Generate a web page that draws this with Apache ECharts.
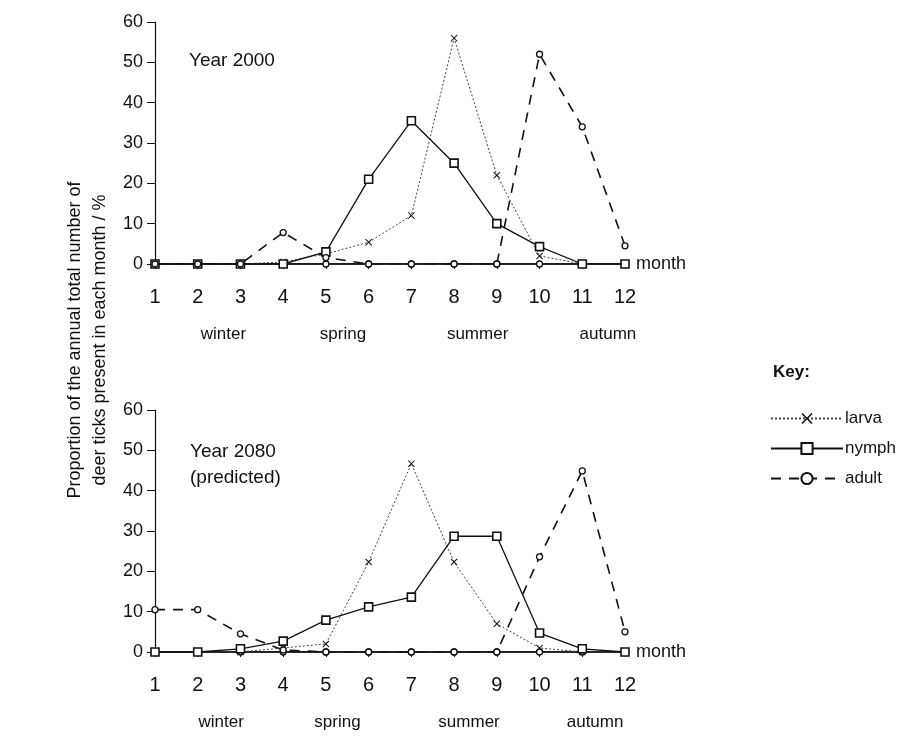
<!DOCTYPE html>
<html><head><meta charset="utf-8">
<script src="https://cdn.jsdelivr.net/npm/echarts@6/dist/echarts.min.js"></script>
<style>html,body{margin:0;padding:0;background:#fff}#c{width:920px;height:736px}</style>
</head><body><div id="c"></div>
<script>
const months = [1,2,3,4,5,6,7,8,9,10,11,12];
const larva2000 = [0,0,0,0.5,2.5,5.4,12,56,22,2,0,0];
const nymph2000 = [0,0,0,0,3,21,35.5,25,10,4.3,0,0];
const adult2000 = [0,0,0,7.8,1.6,0,0,0,0,52,34,4.5];
const larva2080 = [0,0,0,1,2,22.3,46.7,22.3,7,1,0,0];
const nymph2080 = [0,0,0.8,2.7,7.9,11.2,13.6,28.7,28.7,4.7,0.8,0];
const adult2080 = [10.5,10.5,4.5,0.5,0,0,0,0,0,23.6,44.9,5];
const baseline = [0,0,0,0,0,0,0,0,0,0,0,0];
const seasons = ['winter','spring','summer','autumn'];
const seasonPosTop = [2.6,5.4,8.55,11.6];
const seasonPosBottom = [2.55,5.27,8.35,11.3];
const yTicks = {min:0,max:60,interval:10};

const FONT = 'Liberation Sans, Arial, sans-serif';
const X = 'path://M0,1L1,0L5,4L9,0L10,1L6,5L10,9L9,10L5,6L1,10L0,9L4,5Z';

function pairs(arr){ return arr.map((v,i)=>[months[i],v]); }

function mainX(g){
  return {type:'value',gridIndex:g,min:1,max:12,interval:1,
    name:'month',nameLocation:'end',nameGap:11,
    nameTextStyle:{fontSize:18,color:'#111',fontFamily:FONT,verticalAlign:'middle'},
    axisLine:{show:true,onZero:false,lineStyle:{color:'#111',width:1.5}},
    axisTick:{show:true,length:5,lineStyle:{color:'#111'}},
    axisLabel:{fontSize:20,color:'#111',fontFamily:FONT,margin:23},
    splitLine:{show:false}};
}
function seasonX(g,pos){
  return {type:'value',gridIndex:g,min:1,max:12,position:'bottom',
    axisLine:{show:false},axisTick:{show:false},splitLine:{show:false},
    axisLabel:{show:true,customValues:pos,fontSize:17,color:'#111',fontFamily:FONT,margin:62,
      formatter:function(v){const i=pos.indexOf(v);return i>=0?seasons[i]:'';}}};
}
function mainY(g){
  return {type:'value',gridIndex:g,min:yTicks.min,max:yTicks.max,interval:yTicks.interval,
    axisLine:{show:true,lineStyle:{color:'#111',width:1.2}},
    axisTick:{show:true,length:8,lineStyle:{color:'#111'}},
    axisLabel:{fontSize:18,color:'#111',fontFamily:FONT,margin:12},
    splitLine:{show:false}};
}
function larva(g,d){
  return {name:'larva',type:'line',xAxisIndex:g*2,yAxisIndex:g,data:pairs(d),
    symbol:X,symbolSize:7,z:3,
    lineStyle:{color:'#444',width:1,type:[2,2]},
    itemStyle:{color:'#111'}};
}
function nymph(g,d){
  return {name:'nymph',type:'line',xAxisIndex:g*2,yAxisIndex:g,data:pairs(d),
    symbol:'rect',symbolSize:8,z:4,
    lineStyle:{color:'#111',width:1.3,type:'solid'},
    itemStyle:{color:'#fff',borderColor:'#111',borderWidth:1.6}};
}
function adult(g,d){
  return {name:'adult',type:'line',xAxisIndex:g*2,yAxisIndex:g,data:pairs(d),
    symbol:'circle',symbolSize:6,z:5,
    lineStyle:{color:'#111',width:1.6,type:[10,8]},
    itemStyle:{color:'#fff',borderColor:'#111',borderWidth:1.3}};
}
function base(g){
  return {name:'base',type:'line',xAxisIndex:g*2,yAxisIndex:g,data:pairs(baseline),
    symbol:'circle',symbolSize:6,z:2,silent:true,
    lineStyle:{color:'#111',width:1.5},
    itemStyle:{color:'#fff',borderColor:'#111',borderWidth:1.3}};
}

const chart = echarts.init(document.getElementById('c'),null,{renderer:'canvas'});
chart.setOption({
  backgroundColor:'#fff',
  animation:false,
  textStyle:{fontFamily:FONT},
  grid:[
    {left:155,top:22,width:470,height:242},
    {left:155,top:410,width:470,height:242}
  ],
  xAxis:[mainX(0),seasonX(0,seasonPosTop),mainX(1),seasonX(1,seasonPosBottom)],
  yAxis:[mainY(0),mainY(1)],
  legend:{orient:'vertical',left:765,top:405,itemWidth:72,itemHeight:14,itemGap:13,
    data:['larva','nymph','adult'],
    textStyle:{fontSize:17,color:'#111',fontFamily:FONT,padding:[0,0,0,-3]}},
  graphic:[
    {type:'text',left:773,top:364,style:{text:'Key:',font:'bold 17px '+FONT,fill:'#111'}},
    {type:'text',left:189,top:51,style:{text:'Year 2000',font:'19px '+FONT,fill:'#111'}},
    {type:'text',left:190,top:439,style:{text:'Year 2080\n(predicted)',font:'19px '+FONT,fill:'#111',lineHeight:26}},
    {type:'text',x:88,y:340,rotation:Math.PI/2,
      style:{text:'Proportion of the annual total number of\ndeer ticks present in each month / %',
        font:'18px '+FONT,fill:'#111',align:'center',verticalAlign:'middle',lineHeight:25}}
  ],
  series:[base(0),larva(0,larva2000),nymph(0,nymph2000),adult(0,adult2000),
          base(1),larva(1,larva2080),nymph(1,nymph2080),adult(1,adult2080)]
});
</script></body></html>
